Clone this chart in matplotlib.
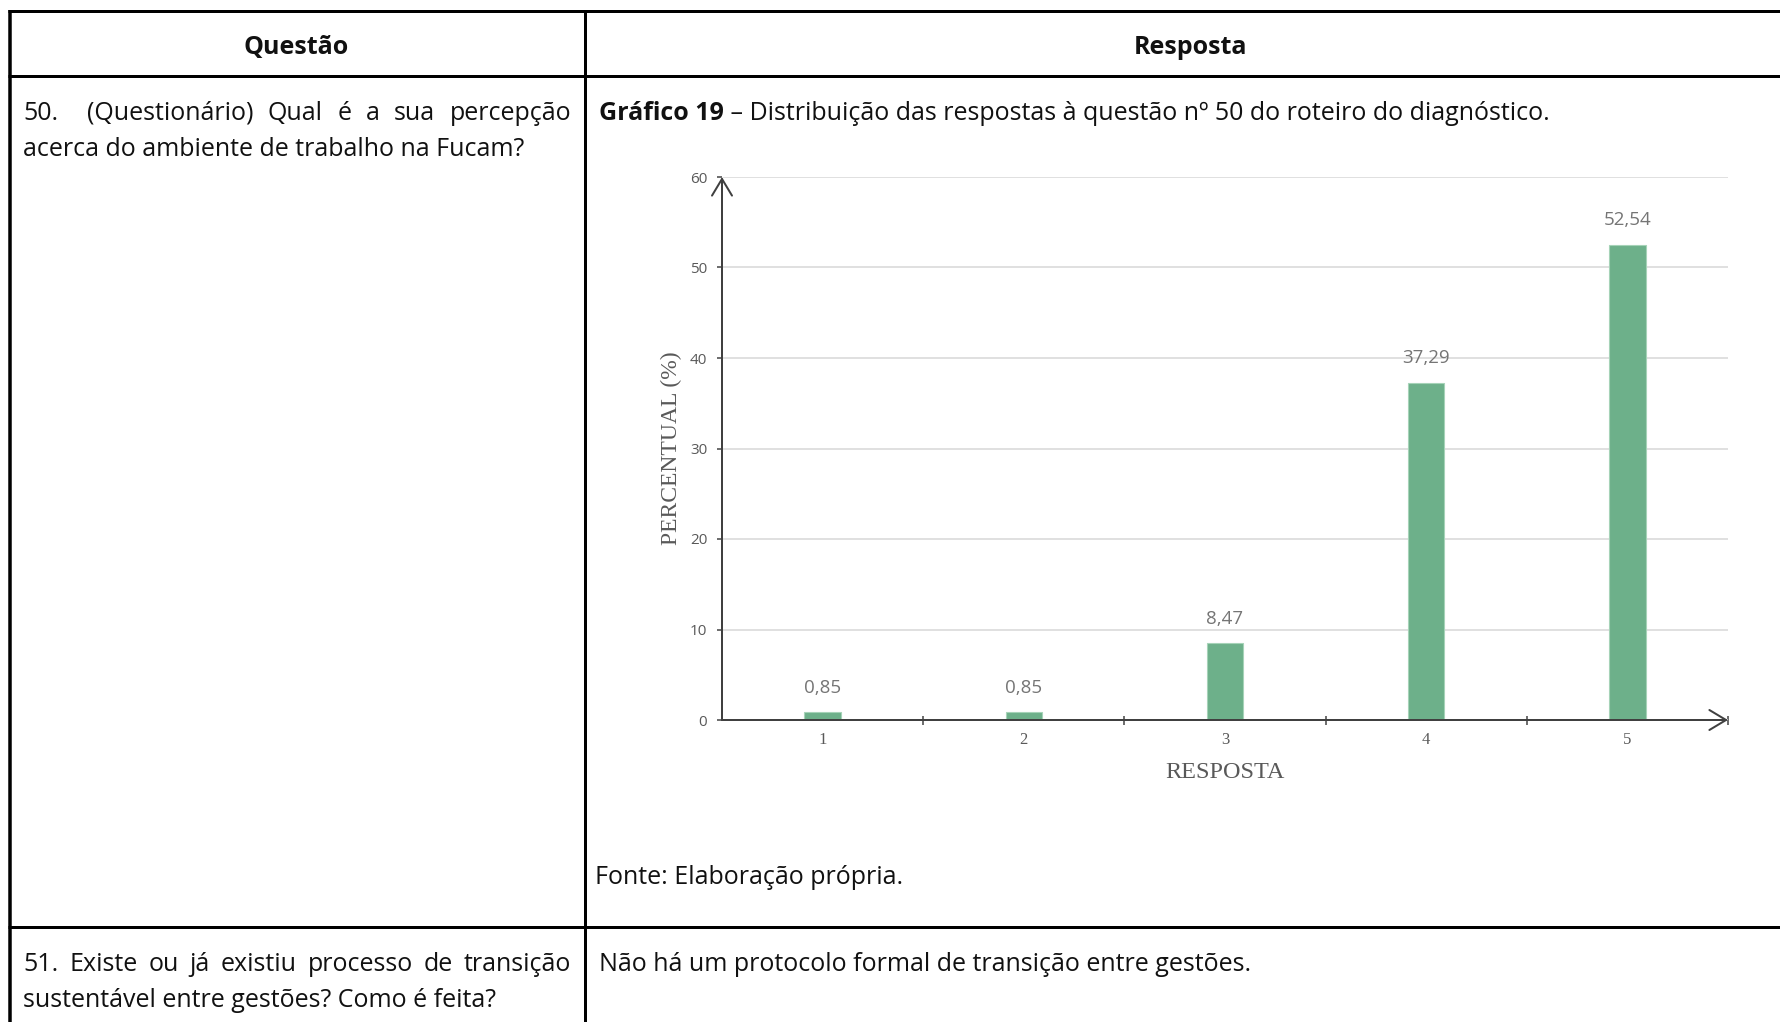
import matplotlib.pyplot as plt

# answer distribution for question 50
respostas = [1, 2, 3, 4, 5]
percentual = [0.85, 0.85, 8.47, 37.29, 52.54]
y_ticks = [0, 10, 20, 30, 40, 50, 60]
x_bounds = [1.5, 2.5, 3.5, 4.5, 5.5]

W, H = 1780, 1022
PX = 72 / 100  # points per pixel at dpi 100

plt.rcParams['font.family'] = ['Open Sans', 'DejaVu Sans']
fig = plt.figure(figsize=(W / 100, H / 100), dpi=100)
fig.patch.set_facecolor('white')

# page layer in pixel coordinates (y grows downward)
page = fig.add_axes([0, 0, 1, 1], zorder=0)
page.set_xlim(0, W)
page.set_ylim(H, 0)
page.set_axis_off()


def rule(xs, ys, w):
    page.plot(xs, ys, color='black', lw=w * PX, solid_capstyle='butt')


# table borders
rule([8, W], [11.5, 11.5], 3)
rule([8, W], [76.5, 76.5], 3)
rule([8, W], [927.5, 927.5], 3)
rule([10, 10], [10, H], 3.5)
rule([584.5, 584.5], [10, H], 3)

renderer = fig.canvas.get_renderer()
BODY = 18


def put(x, y, s, **kw):
    kw.setdefault('fontsize', BODY)
    kw.setdefault('va', 'center')
    kw.setdefault('color', '#111111')
    return page.text(x, y, s, **kw)


def justify(words, x0, x1, y):
    items = [put(x0, y, w) for w in words]
    widths = [t.get_window_extent(renderer).width for t in items]
    gap = (x1 - x0 - sum(widths)) / (len(words) - 1)
    x = x0
    for t, w in zip(items, widths):
        t.set_x(x)
        x += w + gap


put(296, 47.5, 'Questão', ha='center', fontweight='bold')
put(1191, 47.5, 'Resposta', ha='center', fontweight='bold')

put(23, 113.5, '50.')
justify(['(Questionário)', 'Qual', 'é', 'a', 'sua', 'percepção'], 87, 571, 113.5)
put(23, 150, 'acerca do ambiente de trabalho na Fucam?')

bold = put(599, 113.5, 'Gráfico 19', fontweight='bold')
bw = bold.get_window_extent(renderer).width
put(599 + bw, 113.5, ' – Distribuição das respostas à questão nº 50 do roteiro do diagnóstico.')

put(595, 877.5, 'Fonte: Elaboração própria.')

justify(['51.', 'Existe', 'ou', 'já', 'existiu', 'processo', 'de', 'transição'], 23, 571, 964.5)
put(23, 1000.5, 'sustentável entre gestões? Como é feita?')
put(599, 964.5, 'Não há um protocolo formal de transição entre gestões.')

# bar chart
left, right, top, bottom = 722, 1728, 177, 720
ax = fig.add_axes([left / W, 1 - bottom / H, (right - left) / W, (bottom - top) / H], zorder=1)
ax.set_facecolor('none')

ax.bar(respostas, percentual, width=0.18, color='#6DB08A', edgecolor='#A6D3B8', linewidth=0.8, zorder=3)
ax.set_xlim(0.5, 5.5)
ax.set_ylim(0, 60)

for s in ax.spines.values():
    s.set_visible(False)

ax.set_yticks(y_ticks)
ax.yaxis.grid(True, color='#D9D9D9', lw=1.6 * PX, zorder=0)
ax.set_axisbelow(True)
ax.tick_params(axis='y', direction='out', length=5 * PX, width=1.5 * PX, color='#404040',
               labelsize=11, labelcolor='#595959', pad=7)

ax.set_xticks(x_bounds)
ax.set_xticklabels([])
ax.set_xticks(respostas, minor=True)
ax.set_xticklabels([str(r) for r in respostas], minor=True,
                   fontfamily='Liberation Serif', fontsize=12, color='#595959')
ax.tick_params(axis='x', which='major', direction='inout', length=9 * PX, width=1.5 * PX, color='#404040')
ax.tick_params(axis='x', which='minor', length=0, pad=9)

arrow = dict(arrowstyle='->,head_length=0.5,head_width=0.3', color='#404040', lw=2 * PX,
             shrinkA=0, shrinkB=0, mutation_scale=24)
ax.annotate('', xy=(0.5, 60), xytext=(0.5, 0), arrowprops=arrow, annotation_clip=False)
ax.annotate('', xy=(5.5, 0), xytext=(0.5, 0), arrowprops=arrow, annotation_clip=False)

for r, v in zip(respostas, percentual):
    ax.annotate(f'{v:.2f}'.replace('.', ','), xy=(r, v), xytext=(0, 17.5), textcoords='offset points',
                ha='center', va='center', fontsize=13.5, color='#757575')

ax.text(-0.0507, 0.501, 'PERCENTUAL (%)', transform=ax.transAxes, rotation=90, ha='center', va='center',
        fontfamily='Liberation Serif', fontsize=17, color='#595959')
ax.text(0.5, -0.097, 'RESPOSTA', transform=ax.transAxes, ha='center', va='center',
        fontfamily='Liberation Serif', fontsize=17.5, color='#595959')

fig.savefig('out.png', dpi=100)
